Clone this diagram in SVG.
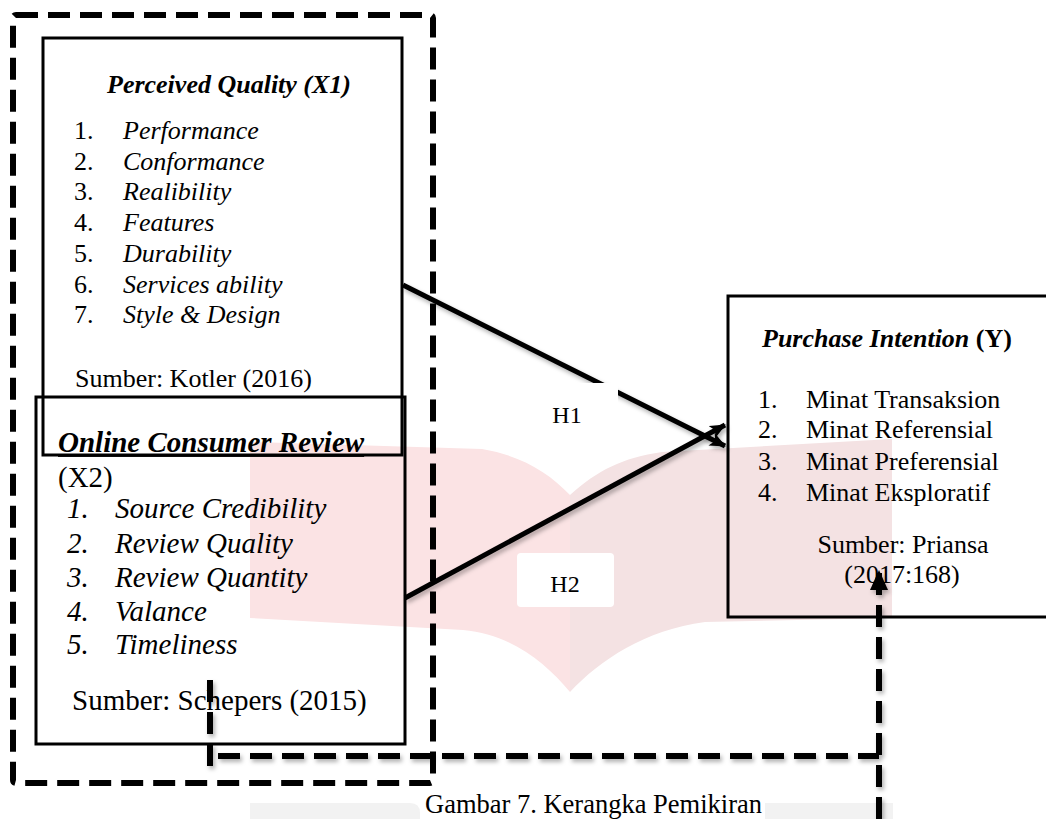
<svg xmlns="http://www.w3.org/2000/svg" width="1046" height="819" viewBox="0 0 1046 819">
  <defs>
    <style>
      text { font-family: "Liberation Serif", "Times New Roman", serif; fill: #000; }
      .t26 { font-size: 26px; }
      .t29 { font-size: 29px; }
      .it { font-style: italic; }
      .bi { font-style: italic; font-weight: bold; }
      .b { font-weight: bold; }
      .box { fill: none; stroke: #000; stroke-width: 3; }
      .link { fill: none; stroke: #000; stroke-width: 5; }
      .dash { fill: none; stroke: #000; stroke-width: 6; stroke-dasharray: 22 10; }
      .label { fill: #fff; stroke: none; }
      .lbl { font-size: 24px; text-anchor: middle; }
    </style>
    <filter id="softShadow" x="-5%" y="-5%" width="110%" height="120%">
      <feDropShadow dx="2" dy="3" stdDeviation="2" flood-color="#000" flood-opacity="0.3"/>
    </filter>
    <marker id="arrowHead" markerUnits="userSpaceOnUse" markerWidth="16" markerHeight="14" refX="15" refY="7" orient="auto">
      <path d="M0,0 L16,7 L0,14 L4,7 z" fill="#000"/>
    </marker>
    <marker id="arrowUp" markerUnits="userSpaceOnUse" markerWidth="20" markerHeight="18" refX="20" refY="9" orient="auto">
      <path d="M0,0 L20,9 L0,18 z" fill="#000"/>
    </marker>
  </defs>

  <!-- background -->
  <rect x="0" y="0" width="1046" height="819" fill="#fff"/>

  <!-- faint book emblem behind the diagram -->
  <g id="emblem">
    <path d="M250,442 L482,449 C522,456 548,472 570,495 L570,692 C545,662 510,634 463,630 L250,618 Z" fill="#fbe3e4"/>
    <path d="M570,495 C598,470 622,458 662,452 L892,439 L892,618 L705,622 C645,630 600,660 570,692 Z" fill="#f4e2e3"/>
    <path d="M250,803 L410,803 Q420,803 420,813 L420,819 L250,819 Z" fill="#f2f2f2"/>
    <rect x="765" y="803" width="128" height="16" fill="#f2f2f2"/>
  </g>

  <!-- Perceived Quality (X1) -->
  <g id="node-x1">
    <rect class="box" x="43" y="38" width="359" height="417"/>
    <text class="t26 bi" x="107" y="93">Perceived Quality (X1)</text>
    <g class="t26">
      <text x="74" y="139">1.</text><text class="it" x="123" y="139">Performance</text>
      <text x="74" y="170">2.</text><text class="it" x="123" y="170">Conformance</text>
      <text x="74" y="200">3.</text><text class="it" x="123" y="200">Realibility</text>
      <text x="74" y="231">4.</text><text class="it" x="123" y="231">Features</text>
      <text x="74" y="262">5.</text><text class="it" x="123" y="262">Durability</text>
      <text x="74" y="293">6.</text><text class="it" x="123" y="293">Services ability</text>
      <text x="74" y="323">7.</text><text class="it" x="123" y="323">Style &amp; Design</text>
    </g>
    <text class="t26" x="75" y="387">Sumber: Kotler (2016)</text>
  </g>

  <!-- Online Consumer Review (X2) -->
  <g id="node-x2">
    <rect class="box" x="36" y="397" width="369" height="347"/>
    <text class="t29 bi" x="58" y="452" text-decoration="underline">Online Consumer Review</text>
    <text class="t29" x="58" y="487">(X2)</text>
    <g class="t29 it">
      <text x="67" y="518">1.</text><text x="115" y="518">Source Credibility</text>
      <text x="67" y="553">2.</text><text x="115" y="553">Review Quality</text>
      <text x="67" y="587">3.</text><text x="115" y="587">Review Quantity</text>
      <text x="67" y="621">4.</text><text x="115" y="621">Valance</text>
      <text x="67" y="654">5.</text><text x="115" y="654">Timeliness</text>
    </g>
    <text class="t29" x="72" y="710">Sumber: Schepers (2015)</text>
  </g>

  <!-- Purchase Intention (Y) -->
  <g id="node-y">
    <rect class="box" x="728" y="296" width="330" height="321"/>
    <text class="t26" x="762" y="347"><tspan class="bi">Purchase Intention</tspan><tspan class="b"> (Y)</tspan></text>
    <g class="t26">
      <text x="758" y="408">1.</text><text x="806" y="408">Minat Transaksion</text>
      <text x="758" y="438">2.</text><text x="806" y="438">Minat Referensial</text>
      <text x="758" y="470">3.</text><text x="806" y="470">Minat Preferensial</text>
      <text x="758" y="501">4.</text><text x="806" y="501">Minat Eksploratif</text>
    </g>
    <text class="t26" x="903" y="553" text-anchor="middle">Sumber: Priansa</text>
    <text class="t26" x="902" y="583" text-anchor="middle">(2017:168)</text>
  </g>

  <!-- hypothesis links -->
  <g id="connectors">
    <path class="link" d="M403,285 L725,446" marker-end="url(#arrowHead)" filter="url(#softShadow)"/>
    <path class="link" d="M405,598 L725,425" marker-end="url(#arrowHead)" filter="url(#softShadow)"/>
    <g id="label-h1">
      <rect class="label" x="519" y="383" width="99" height="56"/>
      <text class="lbl" x="567" y="423">H1</text>
    </g>
    <g id="label-h2">
      <rect class="label" x="517" y="553" width="97" height="54" rx="4"/>
      <text class="lbl" x="565" y="592">H2</text>
    </g>
    <!-- simultaneous effect path -->
    <g filter="url(#softShadow)">
      <path class="dash" d="M210,680 V767" stroke-dasharray="55 8 24 8"/>
      <path class="dash" d="M218,756 H879" stroke-dasharray="23 10"/>
      <path class="dash" d="M879,819 V570" stroke-dasharray="20 8" marker-end="url(#arrowUp)"/>
    </g>
  </g>

  <!-- grouping frame around X1 and X2 -->
  <g id="frame-x">
    <rect class="dash" x="13" y="15" width="420" height="768" rx="3"/>
  </g>

  <!-- caption -->
  <g id="caption">
    <text x="425" y="813" style="font-size:26.5px">Gambar 7. Kerangka Pemikiran</text>
  </g>
</svg>
